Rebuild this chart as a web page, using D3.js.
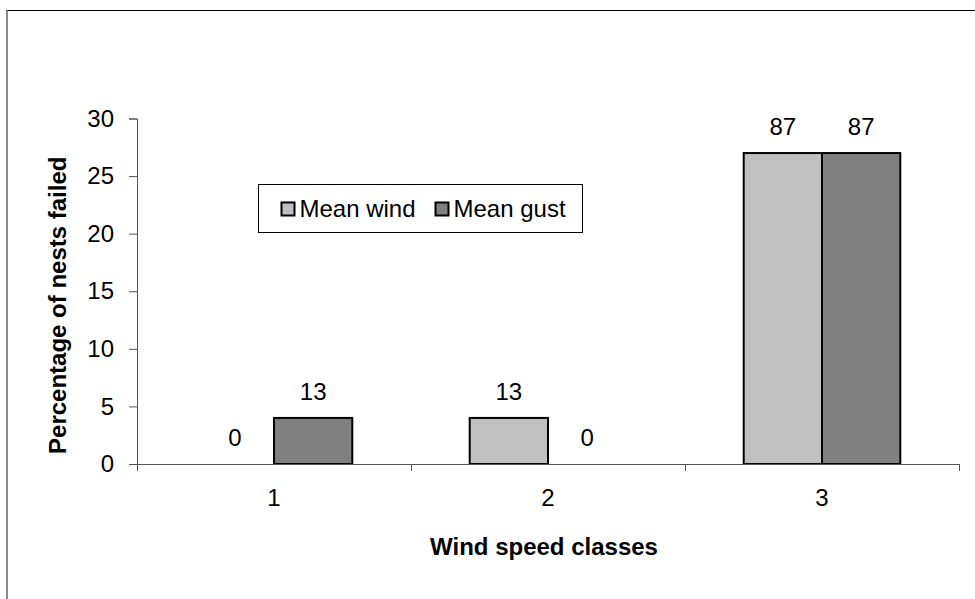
<!DOCTYPE html>
<html>
<head>
<meta charset="utf-8">
<script src="https://cdn.jsdelivr.net/npm/d3@7"></script>
<style>
  body { margin: 0; background: #fff; }
  svg { display: block; font-family: "Liberation Sans", Arial, sans-serif; }
</style>
</head>
<body>
<div id="chart"></div>
<script>
// chart values
let classes = ["1", "2", "3"];
let seriesNames = ["Mean wind", "Mean gust"];
let meanWind = [0, 4, 27];
let meanGust = [4, 0, 27];
let windLabels = ["0", "13", "87"];
let gustLabels = ["13", "0", "87"];
let yTicks = [0, 5, 10, 15, 20, 25, 30];

let width = 975, height = 599;
let margin = {left: 137, right: 16, top: 118.5, bottom: 135};
let colors = {"Mean wind": "#c0c0c0", "Mean gust": "#808080"};

let svg = d3.select("#chart")
    .append("svg")
    .attr("width", width)
    .attr("height", height);

// outer frame (clipped on right and bottom)
svg.append("line")
    .attr("x1", 6).attr("x2", width).attr("y1", 10.5).attr("y2", 10.5)
    .attr("stroke", "#000").attr("stroke-width", 1);
svg.append("line")
    .attr("x1", 7).attr("x2", 7).attr("y1", 10).attr("y2", height)
    .attr("stroke", "#666").attr("stroke-width", 1.5);

let x0 = d3.scaleBand()
    .domain(classes)
    .range([margin.left, width - margin.right]);

let x1 = d3.scaleBand()
    .domain(seriesNames)
    .range([0, x0.bandwidth()])
    .paddingInner(0)
    .paddingOuter(0.75);

let y = d3.scaleLinear()
    .domain([0, 30])
    .range([height - margin.bottom, margin.top]);

// build rows from the arrays
let rows = classes.map(function(c, i) {
    return [
        {cls: c, name: "Mean wind", value: meanWind[i], label: windLabels[i]},
        {cls: c, name: "Mean gust", value: meanGust[i], label: gustLabels[i]}
    ];
});
let flat = rows.flat();

// y axis
let yAxis = svg.append("g")
    .attr("transform", "translate(" + margin.left + ",0)")
    .call(d3.axisLeft(y).tickValues(yTicks).tickSize(8).tickPadding(15));
yAxis.select(".domain").attr("stroke", "#555");
yAxis.selectAll(".tick line").attr("stroke", "#555");
yAxis.selectAll(".tick text")
    .attr("font-size", "24px")
    .attr("font-family", "Liberation Sans, Arial, sans-serif")
    .attr("fill", "#000");

// bars
svg.selectAll(".bar")
    .data(flat.filter(function(d) { return d.value > 0; }))
    .enter().append("rect")
    .attr("class", "bar")
    .attr("x", function(d) { return x0(d.cls) + x1(d.name); })
    .attr("y", function(d) { return y(d.value); })
    .attr("width", x1.bandwidth())
    .attr("height", function(d) { return y(0) - y(d.value); })
    .attr("fill", function(d) { return colors[d.name]; })
    .attr("stroke", "#000")
    .attr("stroke-width", 2);

// x axis (drawn after bars so baseline stays visible)
let xAxisScale = d3.scaleLinear()
    .domain([0, classes.length])
    .range([margin.left, width - margin.right]);
let xAxis = svg.append("g")
    .attr("transform", "translate(0," + y(0) + ")")
    .call(d3.axisBottom(xAxisScale).tickValues(d3.range(1, classes.length + 1)).tickSize(7).tickFormat(""));
xAxis.select(".domain").attr("stroke", "#555");
xAxis.selectAll(".tick line").attr("stroke", "#555");

svg.selectAll(".xlabel")
    .data(classes)
    .enter().append("text")
    .attr("class", "xlabel")
    .attr("x", function(d) { return x0(d) + x0.bandwidth() / 2; })
    .attr("y", y(0) + 42)
    .attr("text-anchor", "middle")
    .attr("font-size", "24px")
    .text(function(d) { return d; });

// value labels
svg.selectAll(".vlabel")
    .data(flat)
    .enter().append("text")
    .attr("class", "vlabel")
    .attr("x", function(d) { return x0(d.cls) + x1(d.name) + x1.bandwidth() / 2; })
    .attr("y", function(d) { return y(d.value) - 18; })
    .attr("text-anchor", "middle")
    .attr("font-size", "24px")
    .text(function(d) { return d.label; });

// axis titles
svg.append("text")
    .attr("transform", "translate(66," + ((margin.top + y(0)) / 2 + 14) + ") rotate(-90)")
    .attr("text-anchor", "middle")
    .attr("font-size", "24px")
    .attr("font-weight", "bold")
    .text("Percentage of nests failed");

svg.append("text")
    .attr("x", 544)
    .attr("y", 555)
    .attr("text-anchor", "middle")
    .attr("font-size", "24px")
    .attr("font-weight", "bold")
    .text("Wind speed classes");

// legend
let legend = svg.append("g").attr("transform", "translate(258.5,184.5)");
legend.append("rect")
    .attr("width", 324).attr("height", 48)
    .attr("fill", "#fff").attr("stroke", "#000").attr("stroke-width", 1);
let legendX = [23, 177];
seriesNames.forEach(function(name, i) {
    legend.append("rect")
        .attr("x", legendX[i]).attr("y", 18)
        .attr("width", 13).attr("height", 13)
        .attr("fill", colors[name]).attr("stroke", "#000").attr("stroke-width", 2);
    legend.append("text")
        .attr("x", legendX[i] + 18).attr("y", 32)
        .attr("font-size", "24px")
        .text(name);
});
</script>
</body>
</html>
